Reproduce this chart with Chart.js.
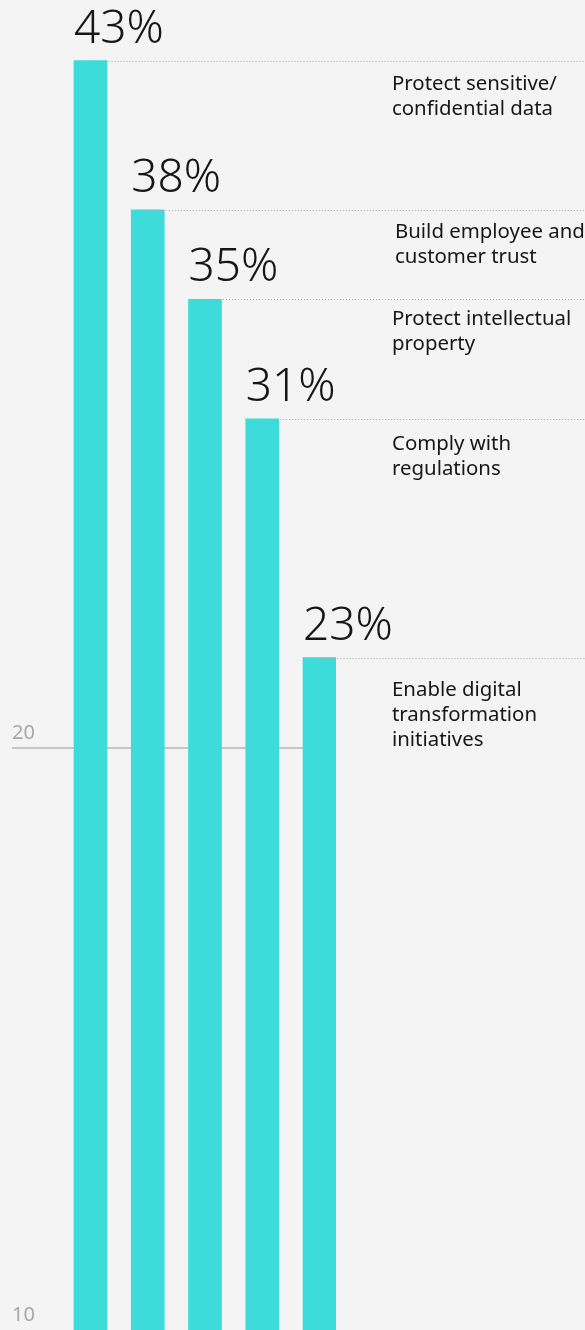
<!DOCTYPE html>
<html>
<head>
<meta charset="utf-8">
<script src="https://cdn.jsdelivr.net/npm/chart.js@4"></script>
<style>
  html, body { margin: 0; padding: 0; background: #f4f4f4; }
  #c { display: block; }
</style>
</head>
<body>
<canvas id="c" width="585" height="1330"></canvas>
<script>
// ---- data ----
const categories = [
  ["Protect sensitive/", "confidential data"],
  ["Build employee and", "customer trust"],
  ["Protect intellectual", "property"],
  ["Comply with", "regulations"],
  ["Enable digital", "transformation", "initiatives"]
];
const values = [43, 38, 35, 31, 23];
const axisTicks = [10, 20];

// ---- styles ----
const TEAL = '#3ddbd9';
const TEXT = '#161616';
const FONT = '"Noto Sans", Roboto, sans-serif';
// per-label fine placement (x shift, first baseline below bar top)
const labelPlacement = [[0, 29], [3, 28], [0, 26], [0, 31], [0, 38]];

const annotate = {
  id: 'annotate',
  afterDatasetsDraw(chart) {
    const ctx = chart.ctx;
    const meta = chart.getDatasetMeta(0);
    ctx.save();
    meta.data.forEach((bar, i) => {
      const left = bar.x - bar.width / 2;
      const top = Math.round(bar.y);
      // dotted leader line
      ctx.strokeStyle = '#a8a8a8';
      ctx.lineWidth = 1;
      ctx.setLineDash([1, 2]);
      ctx.beginPath();
      ctx.moveTo(bar.x, top + 0.5);
      ctx.lineTo(chart.width, top + 0.5);
      ctx.stroke();
      ctx.setLineDash([]);
      // value label
      ctx.fillStyle = TEXT;
      ctx.font = '300 46px ' + FONT;
      ctx.textAlign = 'left';
      ctx.textBaseline = 'alphabetic';
      ctx.fillText(values[i] + '%', left, top - 18);
      // category label
      ctx.font = '400 20.4px ' + FONT;
      const [dx, dy] = labelPlacement[i];
      const lines = categories[i];
      lines.forEach((ln, k) => {
        ctx.fillText(ln, 392 + dx, top + dy + k * 25);
      });
    });
    ctx.restore();
  }
};

new Chart(document.getElementById('c'), {
  type: 'bar',
  data: {
    datasets: [{
      data: values.map((v, i) => ({ x: i, y: v })),
      backgroundColor: TEAL,
      barThickness: 33,
      yAxisID: 'y',
      xAxisID: 'x'
    }]
  },
  plugins: [annotate],
  options: {
    responsive: false,
    animation: false,
    layout: { padding: { left: 12, right: 249, top: 0, bottom: 0 } },
    plugins: { legend: { display: false }, tooltip: { enabled: false } },
    scales: {
      x: { type: 'linear', min: -0.4978, max: 4.288, offset: false, display: false },
      y: { type: 'linear', min: 0.48, max: 45.03, display: false },
      y2: {
        type: 'linear',
        position: 'left',
        min: 10,
        max: 32.85,
        afterBuildTicks: (s) => { s.ticks = axisTicks.map(v => ({ value: v })); },
        afterFit: (s) => { s.width = 50; s.paddingTop = 0; s.paddingBottom = 0; },
        border: { display: false },
        grid: {
          color: (c) => (c.tick && c.tick.value === 20) ? '#c6c6c6' : 'rgba(0,0,0,0)',
          lineWidth: 2,
          drawTicks: true,
          tickLength: 50
        },
        ticks: {
          crossAlign: 'far',
          labelOffset: -15,
          padding: 0,
          color: '#a8a8a8',
          font: { family: FONT, size: 20, weight: '400' }
        }
      }
    }
  }
});
</script>
</body>
</html>
